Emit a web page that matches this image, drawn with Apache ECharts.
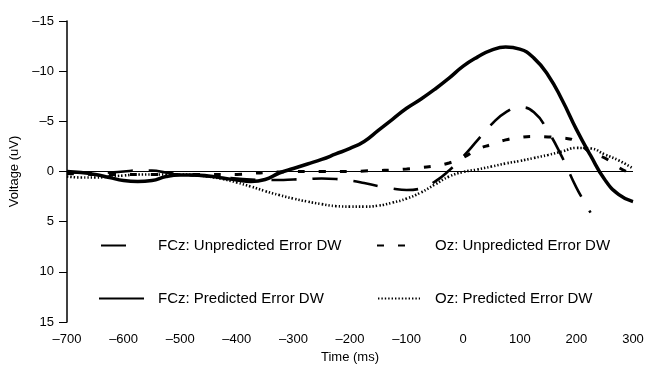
<!DOCTYPE html>
<html>
<head>
<meta charset="utf-8">
<script src="https://cdn.jsdelivr.net/npm/echarts@6/dist/echarts.min.js"></script>
<style>
  html, body { margin: 0; padding: 0; background: #fff; }
  #chart { width: 651px; height: 369px; }
</style>
</head>
<body>
<div id="chart"></div>
<script>
// time points (ms), 25 ms apart
const times = [
  -700, -675, -650, -625, -600, -575, -550, -525, -500, -475, -450,
  -425, -400, -375, -350, -325, -300, -275, -250, -225, -200, -175,
  -150, -125, -100, -75, -50, -25, 0, 25, 50, 75, 100, 125, 150, 175,
  200, 225, 250, 275, 300
];

// voltages (uV)
const fczUnpredicted = [
  0.1, 0.1, 0.15, 0.1, 0.0, -0.1, -0.1, 0.1, 0.3, 0.4, 0.5,
  0.6, 0.7, 0.8, 0.85, 0.85, 0.8, 0.75, 0.7, 0.75, 0.9, 1.15,
  1.45, 1.7, 1.85, 1.7, 1.0, -0.1, -1.5, -3.1, -4.7, -5.9, -6.4, -5.9, -4.0, -1.4,
  1.6, 4.1, null, null, null
];
const fczPredicted = [
  0.0, 0.1, 0.3, 0.6, 0.9, 1.0, 0.9, 0.5, 0.35, 0.35, 0.45,
  0.65, 0.85, 1.0, 0.8, 0.15, -0.3, -0.75, -1.2, -1.75, -2.3, -3.0,
  -4.1, -5.2, -6.3, -7.2, -8.2, -9.3, -10.5, -11.4, -12.1, -12.4, -12.2, -11.3, -9.6, -7.1,
  -4.2, -1.6, 0.8, 2.3, 3.0
];
const ozUnpredicted = [
  0.2, 0.25, 0.3, 0.3, 0.3, 0.3, 0.3, 0.3, 0.3, 0.3, 0.3,
  0.3, 0.3, 0.2, 0.1, 0.05, 0.0, 0.0, 0.0, 0.0, 0.0, -0.05,
  -0.1, -0.15, -0.25, -0.4, -0.55, -0.85, -1.4, -2.2, -2.7, -3.15, -3.4, -3.5, -3.45, -3.35,
  -3.0, -1.9, -1.35, -0.4, 0.3
];
const ozPredicted = [
  0.5, 0.6, 0.6, 0.5, 0.4, 0.3, 0.3, 0.3, 0.3, 0.35, 0.5,
  0.75, 1.1, 1.5, 1.95, 2.35, 2.7, 3.0, 3.25, 3.45, 3.5, 3.5,
  3.4, 3.1, 2.7, 2.1, 1.3, 0.5, 0.05, -0.2, -0.5, -0.8, -1.05, -1.35, -1.65, -2.0,
  -2.35, -2.3, -1.7, -1.1, -0.3
];

const names = [
  "FCz: Unpredicted Error DW",
  "FCz: Predicted Error DW",
  "Oz: Unpredicted Error DW",
  "Oz: Predicted Error DW"
];

const font = "'Liberation Sans', Arial, sans-serif";
const pair = (vals) => times.map((t, i) => [t, vals[i]]);
const dashLabel = (v) => String(v).replace("-", "\u2013");

const chart = echarts.init(document.getElementById("chart"));

const legendBase = {
  orient: "horizontal",
  padding: 0,
  itemHeight: 12,
  itemStyle: { opacity: 0 },
  textStyle: { fontFamily: font, fontSize: 15, color: "#000" },
  selectedMode: false
};

const option = {
  animation: false,
  backgroundColor: "#fff",
  grid: { left: 67, right: 18, top: 21, bottom: 47 },
  xAxis: {
    type: "value",
    min: -700,
    max: 300,
    interval: 100,
    name: "Time (ms)",
    nameLocation: "middle",
    nameGap: 29,
    nameTextStyle: { fontFamily: font, fontSize: 13, color: "#000" },
    axisLine: { show: false, onZero: false },
    axisTick: { show: false },
    splitLine: { show: false },
    axisLabel: { fontFamily: font, fontSize: 13, color: "#000", margin: 11, formatter: dashLabel }
  },
  yAxis: {
    type: "value",
    position: "left",
    inverse: true,
    min: -15,
    max: 15,
    interval: 5,
    name: "Voltage (uV)",
    nameLocation: "middle",
    nameGap: 41,
    nameTextStyle: { fontFamily: font, fontSize: 13, color: "#000" },
    axisLine: { show: true, onZero: false, lineStyle: { color: "#000", width: 1.5 } },
    axisTick: { show: true, inside: false, length: 8, lineStyle: { color: "#000", width: 1 } },
    splitLine: { show: false },
    axisLabel: { fontFamily: font, fontSize: 13, color: "#000", margin: 13, formatter: dashLabel }
  },
  legend: [
    Object.assign({}, legendBase, {
      data: [names[0]], left: 100, top: 238, itemWidth: 25,
      textStyle: Object.assign({}, legendBase.textStyle, { padding: [0, 0, 0, 27] })
    }),
    Object.assign({}, legendBase, {
      data: [names[1]], left: 98, top: 291, itemWidth: 45,
      textStyle: Object.assign({}, legendBase.textStyle, { padding: [0, 0, 0, 9] })
    }),
    Object.assign({}, legendBase, {
      data: [names[2]], left: 376, top: 238, itemWidth: 41,
      textStyle: Object.assign({}, legendBase.textStyle, { padding: [0, 0, 0, 12] })
    }),
    Object.assign({}, legendBase, {
      data: [names[3]], left: 377, top: 291, itemWidth: 42,
      textStyle: Object.assign({}, legendBase.textStyle, { padding: [0, 0, 0, 10] })
    })
  ],
  series: [
    {
      name: names[0],
      type: "line",
      data: pair(fczUnpredicted),
      smooth: true,
      symbol: "none",
      color: "#000",
      lineStyle: { color: "#000", width: 2.6, type: [25, 16] },
      z: 3
    },
    {
      name: names[1],
      type: "line",
      data: pair(fczPredicted),
      smooth: true,
      symbol: "none",
      color: "#000",
      lineStyle: { color: "#000", width: 3.5, type: "solid" },
      z: 4,
      markLine: {
        silent: true,
        symbol: "none",
        label: { show: false },
        lineStyle: { color: "#000", width: 1, type: "solid" },
        data: [{ yAxis: 0 }]
      }
    },
    {
      name: names[2],
      type: "line",
      data: pair(ozUnpredicted),
      smooth: true,
      symbol: "none",
      color: "#000",
      lineStyle: { color: "#000", width: 3, type: [7, 14] },
      z: 3
    },
    {
      name: names[3],
      type: "line",
      data: pair(ozPredicted),
      smooth: true,
      symbol: "none",
      color: "#000",
      lineStyle: { color: "#000", width: 2.6, type: [1.4, 2] },
      z: 3
    }
  ]
};

chart.setOption(option);
</script>
</body>
</html>
